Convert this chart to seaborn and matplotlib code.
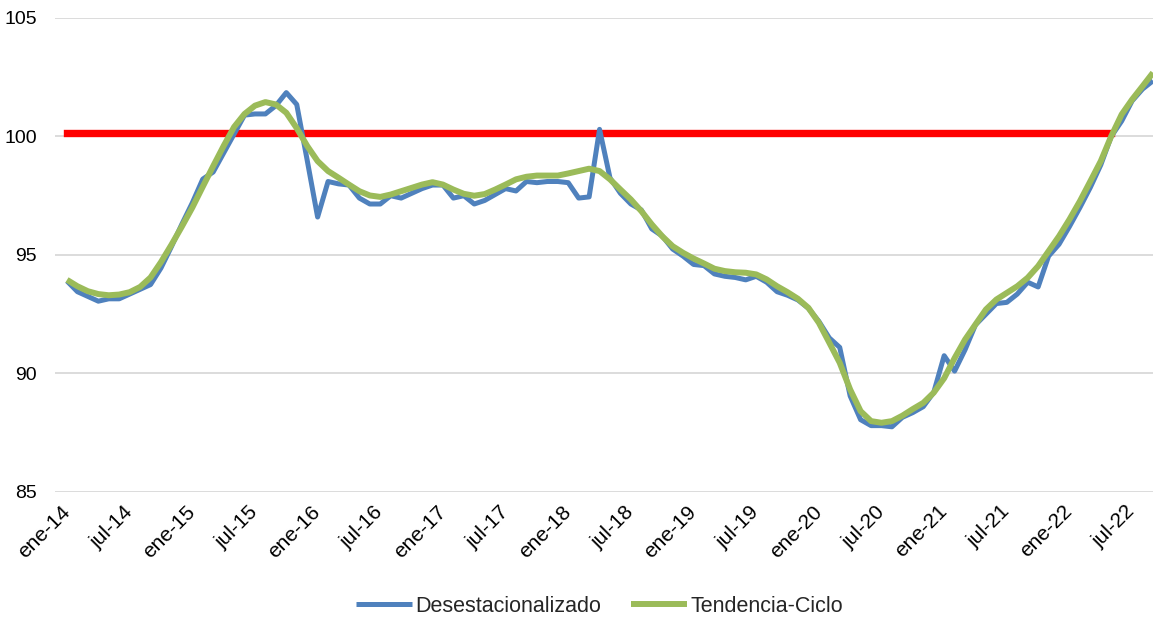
import numpy as np
import pandas as pd
import seaborn as sns
import matplotlib.pyplot as plt

# monthly series, ene-14 .. sep-22
desestacionalizado = [
    93.9, 93.45, 93.25, 93.05, 93.15, 93.15, 93.35, 93.55, 93.75, 94.45,
    95.35, 96.3, 97.2, 98.2, 98.5, 99.3, 100.1, 100.9, 100.95, 100.95,
    101.3, 101.85, 101.35, 99.0, 96.6, 98.1, 98.0, 97.95, 97.4, 97.15,
    97.15, 97.5, 97.4, 97.6, 97.8, 97.95, 97.95, 97.4, 97.5, 97.15,
    97.3, 97.55, 97.8, 97.7, 98.1, 98.05, 98.1, 98.1, 98.05, 97.4,
    97.45, 100.3, 98.25, 97.6, 97.15, 96.9, 96.1, 95.8, 95.25, 94.95,
    94.6, 94.55, 94.2, 94.1, 94.05, 93.95, 94.1, 93.85, 93.45, 93.3,
    93.1, 92.75, 92.2, 91.5, 91.1, 89.05, 88.05, 87.8, 87.8, 87.75,
    88.15, 88.35, 88.6, 89.2, 90.75, 90.1, 91.0, 92.05, 92.5, 92.95,
    93.0, 93.35, 93.85, 93.65, 94.95, 95.45, 96.2, 97.0, 97.85, 98.8,
    100.0, 100.65, 101.5, 102.0, 102.35,
]
tendencia_ciclo = [
    93.95, 93.68, 93.47, 93.35, 93.3, 93.33, 93.43, 93.65, 94.05, 94.7,
    95.43, 96.2, 97.0, 97.88, 98.75, 99.6, 100.4, 100.95, 101.3, 101.45,
    101.35, 101.0, 100.35, 99.6, 98.96, 98.54, 98.26, 97.97, 97.69, 97.51,
    97.45, 97.55, 97.69, 97.83, 97.97, 98.07, 97.97, 97.76, 97.58, 97.5,
    97.57, 97.76, 97.97, 98.19, 98.3, 98.35, 98.35, 98.35, 98.44, 98.54,
    98.64, 98.54, 98.19, 97.76, 97.34, 96.85, 96.29, 95.79, 95.37, 95.09,
    94.85, 94.64, 94.42, 94.32, 94.27, 94.25, 94.18, 93.97, 93.68, 93.43,
    93.15, 92.77, 92.14, 91.3, 90.45, 89.32, 88.41, 87.99, 87.92, 87.99,
    88.22, 88.5, 88.76, 89.19, 89.8, 90.65, 91.43, 92.07, 92.7, 93.12,
    93.4, 93.68, 94.04, 94.53, 95.16, 95.79, 96.5, 97.27, 98.11, 98.96,
    100.01, 100.93, 101.56, 102.12, 102.69,
]
referencia = 100.13
referencia_meses = 101  # ene-14 .. may-22

tick_labels = ['ene-14', 'jul-14', 'ene-15', 'jul-15', 'ene-16', 'jul-16',
               'ene-17', 'jul-17', 'ene-18', 'jul-18', 'ene-19', 'jul-19',
               'ene-20', 'jul-20', 'ene-21', 'jul-21', 'ene-22', 'jul-22']

mes = np.arange(len(desestacionalizado))
df = pd.DataFrame({'mes': mes,
                   'Desestacionalizado': desestacionalizado,
                   'Tendencia-Ciclo': tendencia_ciclo})
ref = pd.DataFrame({'mes': mes[:referencia_meses],
                    'valor': [referencia] * referencia_meses})

sns.set_style('white')
plt.rcParams['font.family'] = ['Liberation Sans', 'DejaVu Sans']

fig = plt.figure(figsize=(11.53, 6.19), dpi=100)
ax = fig.add_axes([0.0477, 0.2052, 0.9523, 0.7658])

sns.lineplot(x='mes', y='valor', data=ref, ax=ax, color='#FF0000',
             linewidth=5.3, zorder=1, legend=False)
sns.lineplot(x='mes', y='Desestacionalizado', data=df, ax=ax, color='#4F81BD',
             linewidth=3.6, zorder=2, label='Desestacionalizado')
sns.lineplot(x='mes', y='Tendencia-Ciclo', data=df, ax=ax, color='#9BBB59',
             linewidth=4.3, zorder=3, label='Tendencia-Ciclo')
for ln in ax.lines:
    ln.set_solid_joinstyle('round')
    ln.set_solid_capstyle('butt')
# the reference bar sticks out a little past its end points
ax.lines[0].set_solid_capstyle('projecting')

ax.set_xlim(-1.15, 104.0)
ax.set_ylim(85, 105)
ax.set_yticks([85, 90, 95, 100, 105])
ax.set_xticks(np.arange(0, 103, 6))
ax.set_xticklabels(tick_labels, rotation=45, ha='right', va='center',
                   rotation_mode='anchor')
ax.tick_params(axis='x', length=0, pad=12, labelsize=15, colors='#000000')
ax.tick_params(axis='y', length=0, pad=13, labelsize=14, colors='#000000')
ax.yaxis.grid(True, color='#D9D9D9', linewidth=1.3)
ax.set_axisbelow(True)
ax.set_xlabel('')
ax.set_ylabel('')
for s in ax.spines.values():
    s.set_visible(False)

ax.get_legend().remove()
h, l = ax.get_legend_handles_labels()
fig.legend(h, l, loc='center', bbox_to_anchor=(0.52, 0.021), ncol=2,
           frameon=False, fontsize=15.5, handlelength=2.6,
           handletextpad=0.15, columnspacing=1.4)

fig.savefig('out.png', dpi=100)
